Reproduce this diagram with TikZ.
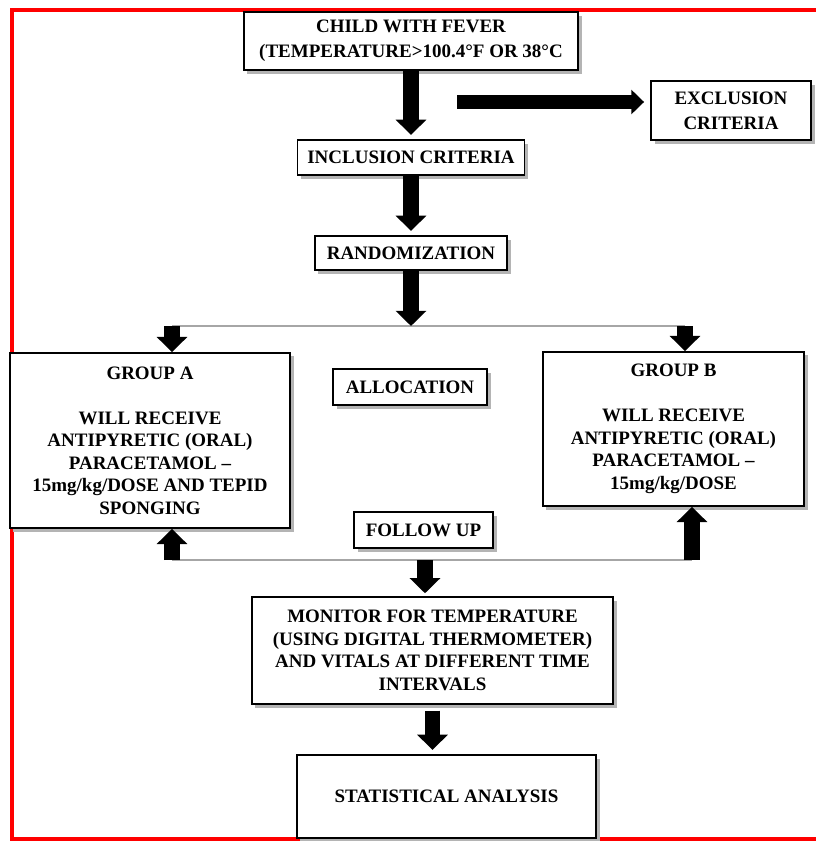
\documentclass[tikz,border=0pt]{standalone}
\usepackage{fontspec}
\setmainfont{Liberation Serif}
\usetikzlibrary{arrows.meta, positioning, shadows}
\definecolor{framered}{HTML}{FF0000}
\definecolor{shadowgray}{HTML}{B4B4B4}

\begin{document}
\begin{tikzpicture}[x=0.025cm, y=-0.025cm,
  stepbox/.style={draw, line width=1.3pt, fill=white, align=center, inner sep=2pt,
    font=\fontsize{13.5}{16}\selectfont\bfseries,
    drop shadow={shadow xshift=2.5pt, shadow yshift=-2.5pt, fill=shadowgray, opacity=1}},
  fatarrow/.style={line width=0.38cm, -{Triangle[width=0.75cm, length=0.38cm]}},
  sidearrow/.style={line width=0.33cm, -{Triangle[width=0.6cm, length=0.32cm]}},
  splitline/.style={draw=gray!70, line width=0.8pt},
]
\useasboundingbox (0,0) rectangle (815,841);

% Frame
\draw[framered, line width=0.12cm] (12,10) rectangle (850,839);

% Main column
\node[stepbox, minimum width=8.35cm, minimum height=1.45cm] (child) at (411,41) {CHILD WITH FEVER\\[2pt](TEMPERATURE>100.4°F OR 38°C};
\node[stepbox, minimum width=4cm, minimum height=1.475cm] (excl) at (731,110.5) {EXCLUSION\\[2pt]CRITERIA};
\node[stepbox, minimum width=5.675cm, minimum height=0.875cm] (incl) at (411,157.5) {INCLUSION CRITERIA};
\node[stepbox, minimum width=4.8cm, minimum height=0.85cm] (rand) at (411,253) {RANDOMIZATION};

% Groups
\node[stepbox, minimum width=7cm, minimum height=4.375cm] (grpA) at (150,440.5) {GROUP A\\[16pt]WILL RECEIVE\\ANTIPYRETIC (ORAL)\\PARACETAMOL –\\15mg/kg/DOSE AND TEPID\\SPONGING};
\node[stepbox, minimum width=3.85cm, minimum height=0.9cm] (alloc) at (410,387) {ALLOCATION};
\node[stepbox, minimum width=6.525cm, minimum height=3.85cm] (grpB) at (673.5,429) {GROUP B\\[16pt]WILL RECEIVE\\ANTIPYRETIC (ORAL)\\PARACETAMOL –\\15mg/kg/DOSE};
\node[stepbox, minimum width=3.475cm, minimum height=0.9cm] (follow) at (423.5,530) {FOLLOW UP};

% Outcome
\node[stepbox, minimum width=9.025cm, minimum height=2.675cm] (monitor) at (432.5,650.5) {MONITOR FOR TEMPERATURE\\(USING DIGITAL THERMOMETER)\\AND VITALS AT DIFFERENT TIME\\INTERVALS};
\node[stepbox, minimum width=7.475cm, minimum height=2.075cm] (stats) at (446.5,796.5) {STATISTICAL ANALYSIS};

% Junction points
\coordinate (exstart) at (457,102);
\coordinate (split) at (411,326);
\coordinate (splitA) at (172,326);
\coordinate (splitB) at (685,326);
\coordinate (joinA) at (172,560);
\coordinate (joinB) at (692,560);
\coordinate (joinM) at (425,560);

% Arrows
\draw[fatarrow, shorten >=3pt] (child) -- (incl);
\draw[sidearrow, shorten >=0.15cm] (exstart) -- (exstart -| excl.west);
\draw[fatarrow, shorten >=3pt] (incl) -- (rand);

\draw[splitline] (splitA) -- (splitB);
\draw[fatarrow] (rand) -- (split);
\draw[fatarrow] (splitA) -- (splitA |- grpA.north);
\draw[fatarrow] (splitB) -- (splitB |- grpB.north);

\draw[splitline] (joinA) -- (joinB);
\draw[fatarrow] (joinA) -- (joinA |- grpA.south);
\draw[fatarrow] (joinB) -- (joinB |- grpB.south);
\draw[fatarrow, shorten >=2pt] (joinM) -- (joinM |- monitor.north);

\draw[fatarrow, shorten <=4pt, shorten >=3pt] (monitor.south) -- (monitor.south |- stats.north);

\end{tikzpicture}
\end{document}
